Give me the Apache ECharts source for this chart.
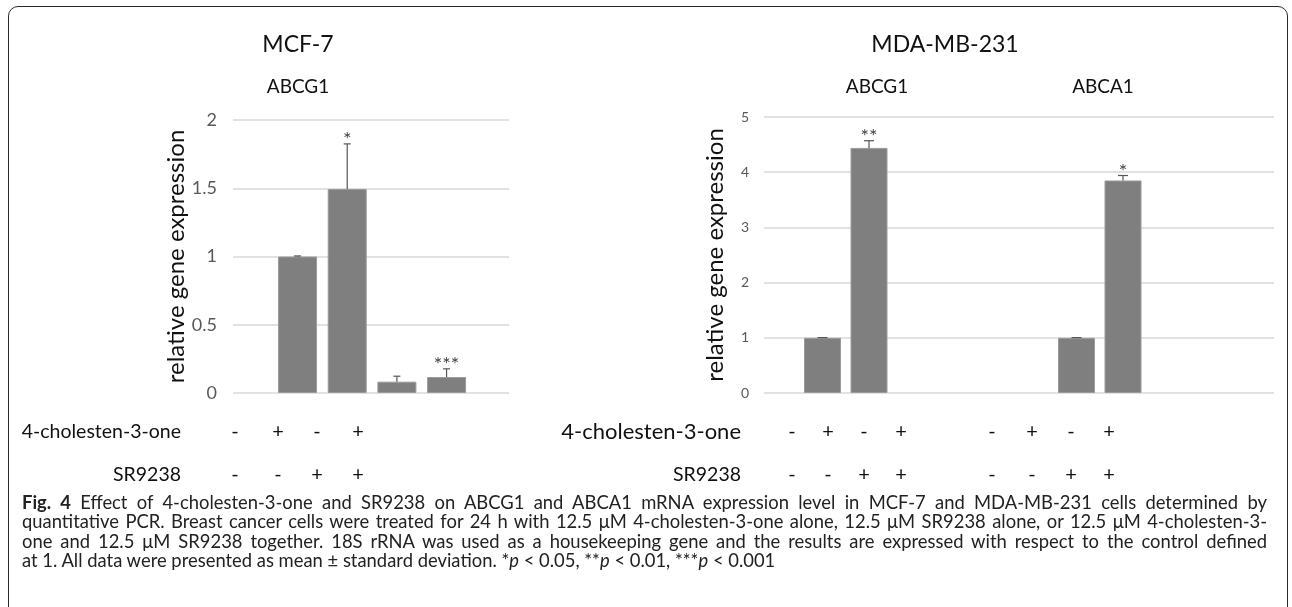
<!DOCTYPE html>
<html><head><meta charset="utf-8">
<script src="https://cdn.jsdelivr.net/npm/echarts@6/dist/echarts.min.js"></script>
<style>
html,body{margin:0;padding:0;background:#fff;}
#wrap{position:relative;width:1292px;height:607px;overflow:hidden;background:#fff;}
#frame{position:absolute;left:8px;top:6px;width:1280px;height:700px;border:1.5px solid #2a2a2a;border-radius:10px;box-sizing:border-box;}
#chart{position:absolute;left:0;top:0;width:1292px;height:607px;}
#caption{position:absolute;left:22px;top:493px;width:1245px;font-family:Lato,'Open Sans',sans-serif;font-size:18.4px;line-height:19.3px;color:#222;}
#caption .j{text-align:justify;text-align-last:justify;white-space:nowrap;}
#caption .l{text-align:left;white-space:nowrap;}
</style>
</head><body>
<div id="wrap">
<div id="frame"></div>
<div id="chart"></div>
<div id="caption">
<div class="j"><b>Fig. 4</b> Effect of 4-cholesten-3-one and SR9238 on ABCG1 and ABCA1 mRNA expression level in MCF-7 and MDA-MB-231 cells determined by</div>
<div class="j">quantitative PCR. Breast cancer cells were treated for 24 h with 12.5 μM 4-cholesten-3-one alone, 12.5 μM SR9238 alone, or 12.5 μM 4-cholesten-3-</div>
<div class="j">one and 12.5 μM SR9238 together. 18S rRNA was used as a housekeeping gene and the results are expressed with respect to the control defined</div>
<div class="l">at 1. All data were presented as mean ± standard deviation. *<i>p</i> &lt; 0.05, **<i>p</i> &lt; 0.01, ***<i>p</i> &lt; 0.001</div>
</div>
</div>
<script>
// ---- data ----
const conditions = ['ctrl', 'chol', 'SR', 'chol+SR'];
const mcf7ABCG1Mean = [1.0, 1.495, 0.083, 0.117];
const mcf7ABCG1Err  = [0.004, 0.33, 0.04, 0.06];
const mcf7ABCG1Sig  = ['', '*', '', '***'];
const mdaABCG1Mean  = [1.0, 4.44, null, null];
const mdaABCG1Err   = [0.004, 0.13, null, null];
const mdaABCG1Sig   = ['', '**', '', ''];
const mdaABCA1Mean  = [1.0, 3.85, null, null];
const mdaABCA1Err   = [0.004, 0.09, null, null];
const mdaABCA1Sig   = ['', '*', '', ''];
const cholestenoneRow = ['-', '+', '-', '+'];
const sr9238Row       = ['-', '-', '+', '+'];
const leftAxis  = {min: 0, max: 2, interval: 0.5};
const rightAxis = {min: 0, max: 5, interval: 1};
const yTitle = 'relative gene expression';

// ---- layout ----
const FONT = 'Lato, "Open Sans", sans-serif';
const barColor = '#7f7f7f';
const chart = echarts.init(document.getElementById('chart'));

function errData(mean, err) {
  const out = [];
  mean.forEach((m, i) => { if (m != null) out.push([i, m, err[i]]); });
  return out;
}
function errSeries(xi, yi, mean, err, sig, capHalf) {
  return {
    type: 'custom', xAxisIndex: xi, yAxisIndex: yi, z: 5,
    data: errData(mean, err),
    renderItem: function (params, api) {
      const i = api.value(0), m = api.value(1), e = api.value(2);
      const base = api.coord([i, m]);
      const top = api.coord([i, m + e]);
      const s = sig[i];
      const children = [
        {type: 'line', shape: {x1: base[0], y1: base[1], x2: top[0], y2: top[1]}, style: {stroke: '#555', lineWidth: 1.2}},
        {type: 'line', shape: {x1: top[0] - capHalf, y1: top[1], x2: top[0] + capHalf, y2: top[1]}, style: {stroke: '#555', lineWidth: 1.2}}
      ];
      if (s) children.push({type: 'text', style: {text: s, x: top[0], y: top[1] - 4, align: 'center', verticalAlign: 'middle', textAlign: 'center', textVerticalAlign: 'middle', font: '20px ' + FONT, fill: '#444'}});
      return {type: 'group', children: children};
    }
  };
}
function barSeries(xi, yi, mean, w) {
  return {type: 'bar', xAxisIndex: xi, yAxisIndex: yi, data: mean, barWidth: w,
    itemStyle: {color: barColor, borderColor: '#9b9b9b', borderWidth: 1}, silent: true};
}
function txt(text, x, y, size, align, extra) {
  return Object.assign({type: 'text', style: {text: text, x: x, y: y, font: size + 'px ' + FONT, fill: '#111',
    align: align, verticalAlign: 'middle', textAlign: align, textVerticalAlign: 'middle'}}, extra || {});
}

const graphics = [
  txt('MCF-7', 298, 45, 23, 'center'),
  txt('MDA-MB-231', 945, 45, 23, 'center'),
  txt('ABCG1', 298, 87, 19, 'center'),
  txt('ABCG1', 877, 87, 19, 'center'),
  txt('ABCA1', 1103, 87, 19, 'center'),
  txt('4-cholesten-3-one', 181, 432, 19.5, 'right'),
  txt('SR9238', 181, 475, 19.5, 'right'),
  txt('4-cholesten-3-one', 741, 432, 22, 'right'),
  txt('SR9238', 741, 475, 19.5, 'right')
];
const signX = [[235, 278, 317, 358], [792, 828, 864, 901], [992, 1032, 1071, 1109]];
signX.forEach(xs => {
  xs.forEach((x, i) => {
    graphics.push(txt(cholestenoneRow[i], x, 432, 20, 'center'));
    graphics.push(txt(sr9238Row[i], x, 475, 20, 'center'));
  });
});

const hiddenCat = (gi, data) => ({type: 'category', gridIndex: gi, data: data, show: false});
const hiddenVal = (gi, ax) => ({type: 'value', gridIndex: gi, min: ax.min, max: ax.max, interval: ax.interval, show: false, splitLine: {show: false}});
const shownVal = (gi, ax, fs, margin, gap) => ({
  type: 'value', gridIndex: gi, min: ax.min, max: ax.max, interval: ax.interval,
  axisLine: {show: false}, axisTick: {show: false},
  axisLabel: {fontFamily: FONT, fontSize: fs, color: '#595959', margin: margin},
  splitLine: {lineStyle: {color: '#d9d9d9', width: 1.5}},
  name: yTitle, nameLocation: 'middle', nameRotate: 90, nameGap: gap,
  nameTextStyle: {fontFamily: FONT, fontSize: 24, color: '#111'}
});

chart.setOption({
  animation: false,
  grid: [
    {left: 233, width: 276, top: 120, height: 273},
    {left: 272.7, width: 198.7, top: 120, height: 273},
    {left: 764, width: 510, top: 117, height: 276},
    {left: 799.25, width: 186, top: 117, height: 276},
    {left: 1053.25, width: 186, top: 117, height: 276}
  ],
  xAxis: [hiddenCat(0, ['']), hiddenCat(1, conditions), hiddenCat(2, ['']), hiddenCat(3, conditions), hiddenCat(4, conditions)],
  yAxis: [
    shownVal(0, leftAxis, 18, 16, 40),
    hiddenVal(1, leftAxis),
    shownVal(2, rightAxis, 14, 15, 37),
    hiddenVal(3, rightAxis),
    hiddenVal(4, rightAxis)
  ],
  series: [
    barSeries(1, 1, mcf7ABCG1Mean, 39),
    errSeries(1, 1, mcf7ABCG1Mean, mcf7ABCG1Err, mcf7ABCG1Sig, 3.5),
    barSeries(3, 3, mdaABCG1Mean, 37),
    errSeries(3, 3, mdaABCG1Mean, mdaABCG1Err, mdaABCG1Sig, 5),
    barSeries(4, 4, mdaABCA1Mean, 37),
    errSeries(4, 4, mdaABCA1Mean, mdaABCA1Err, mdaABCA1Sig, 5)
  ],
  graphic: graphics
});
</script>
</body></html>
